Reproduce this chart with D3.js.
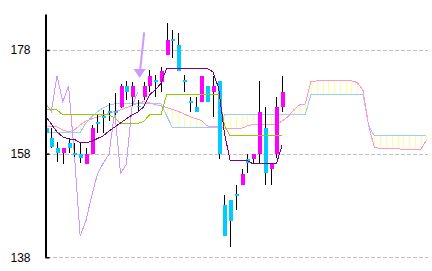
<!DOCTYPE html>
<html>
<head>
<meta charset="utf-8">
<script src="https://cdn.jsdelivr.net/npm/d3@7"></script>
<style>
  body { margin: 0; background: #fff; }
  svg { display: block; }
</style>
</head>
<body>
<svg id="chart" width="432" height="271"></svg>
<script>
// candles (price units)
const opens  = [163.0,161.1,159.15,158.07,160.1,158.1,157.93,156.0,157.93,164.1,165.2,166.2,166.3,167.06,171.05,169.0,167.2,169.0,171.1,172.2,171.9,177.04,180.1,179.0,172.2,168.2,167.06,168.0,171.05,169.95,172.0,148.1,149.06,150.2,151.95,156.95,156.97,157.93,162.9,155.04,157.93,167.06];
const highs  = [163.3,163.0,160.2,159.15,161.1,160.1,160.2,159.1,163.5,165.6,166.4,167.8,169.6,171.5,172.0,171.9,168.35,171.9,174.1,173.2,174.8,183.15,181.9,181.2,173.2,169.0,169.0,173.0,171.05,173.0,172.0,150.0,149.06,151.95,155.04,157.93,157.9,172.0,167.06,155.95,169.0,172.98];
const lows   = [161.6,159.0,156.45,156.0,158.07,157.4,156.1,156.0,157.9,161.9,162.0,164.2,165.5,166.8,168.35,167.2,166.1,168.35,169.95,169.0,169.95,177.0,176.4,173.9,169.95,166.1,166.1,168.0,168.0,165.1,156.97,142.1,140.04,147.13,151.95,154.2,156.0,156.0,151.95,151.95,157.1,166.1];
const closes = [162.0,159.2,158.07,159.15,159.15,157.9,157.06,157.93,163.0,163.7,164.8,165.8,165.9,171.1,169.95,171.1,166.9,171.1,173.0,171.9,173.95,179.93,179.7,173.95,171.9,167.8,166.1,173.0,168.0,171.05,157.93,142.1,145.0,149.8,154.07,156.14,157.88,166.1,154.2,155.95,167.06,169.95];

// ichimoku lines
const tenkan = [165.26,163.72,162.18,161.21,160.83,160.73,160.15,160.15,160.34,160.92,161.41,162.37,163.14,163.91,164.69,165.46,166.04,167.0,169.3,170.3,171.5,174.47,174.47,174.47,174.47,174.47,174.47,174.47,174.47,173.75,170.67,161.98,156.64,156.64,156.64,156.64,156.0,156.0,156.0,156.0,156.0,159.67];
const kijun  = [166.42,166.42,166.42,165.46,165.46,165.46,165.46,165.46,165.46,165.46,165.46,165.46,164.9,163.86,163.86,163.86,163.86,164.17,165.46,165.46,165.46,169.41,169.41,169.41,169.41,169.41,169.41,169.41,169.41,169.41,169.41,163.5,161.41,161.41,161.41,161.41,161.41,161.41,161.41,161.41,161.41,161.41];
const spanA  = [163.20,163.20,163.14,162.56,162.24,162.56,163.53,164.30,164.69,165.07,
                165.36,165.75,166.13,166.42,166.90,167.29,167.68,168.02,167.77,167.48,
                167.19,166.90,166.52,166.13,165.65,165.17,164.78,164.40,163.34,163.20,
                163.20,162.89,162.89,162.89,162.89,163.34,163.62,163.53,163.53,163.53,
                163.53,164.30,165.13,166.42,167.39,167.58,171.88,172.02,172.02,172.02,
                172.02,172.02,172.02,172.02,171.73,170.28,163.34,159.15,159.03,159.03,
                159.03,159.03,158.70,158.70,158.70,158.70,160.63];
const spanB  = [162.04,162.04,162.04,162.04,162.04,162.04,162.04,163.91,165.07,166.09,
                166.81,167.39,167.58,167.58,167.58,167.58,167.58,167.58,167.58,167.58,
                167.58,165.3,163.01,163.01,163.01,163.01,163.01,163.01,163.01,163.01,
                163.01,165.46,165.46,165.46,165.46,165.46,165.46,165.46,165.46,165.46,
                165.46,165.46,165.46,165.46,165.46,165.46,169.45,169.45,169.45,169.45,
                169.45,169.45,169.45,169.45,169.45,169.45,163.34,161.41,161.41,161.41,
                161.41,161.41,161.41,161.41,161.41,161.41,161.41];
const chikou = [167.8,166.1,173.0,168.0,171.05,157.93,142.1,145.0,149.8,154.07,156.14,157.88,166.1,154.2,155.95,167.06,169.95];

const yTicks = [138, 158, 178];
// marker arrow: [index, price] tail and tip
const arrowTail = [17.1, 181.4];
const arrowTip  = [16.3, 172.6];

const svg = d3.select('#chart');
const x = d3.scaleLinear().domain([0, 66]).range([45.5, 426.4]);
const y = d3.scaleLinear().domain([138, 184.93]).range([257.3, 14]);

// grid
svg.append('g')
  .selectAll('line')
  .data(yTicks)
  .enter().append('line')
  .attr('x1', 47).attr('x2', 428)
  .attr('y1', d => Math.round(y(d)) + 0.5)
  .attr('y2', d => Math.round(y(d)) + 0.5)
  .attr('stroke', '#c0c0c0')
  .attr('stroke-dasharray', '4,2')
  .attr('shape-rendering', 'crispEdges');

// cloud hatch
const hatch = d3.range(spanA.length);
svg.append('g')
  .selectAll('line')
  .data(hatch)
  .enter().append('line')
  .attr('x1', i => Math.round(x(i)) + 0.5)
  .attr('x2', i => Math.round(x(i)) + 0.5)
  .attr('y1', i => y(spanA[i]))
  .attr('y2', i => y(spanB[i]))
  .attr('stroke', '#ffff99')
  .attr('shape-rendering', 'crispEdges');

const line = arr => d3.line()
  .x((d, i) => x(i))
  .y(d => y(d))(arr);

const drawLine = (arr, color) => svg.append('path')
  .attr('d', line(arr))
  .attr('fill', 'none')
  .attr('stroke', color)
  .attr('stroke-width', 1)
  .attr('shape-rendering', 'crispEdges');

drawLine(spanB, '#99ccff');
drawLine(spanA, '#ff99cc');
drawLine(chikou, '#cc99ff');

// candles
const candles = svg.append('g').attr('shape-rendering', 'crispEdges');
candles.selectAll('line')
  .data(closes)
  .enter().append('line')
  .attr('x1', (d, i) => Math.round(x(i)) + 0.5)
  .attr('x2', (d, i) => Math.round(x(i)) + 0.5)
  .attr('y1', (d, i) => y(highs[i]))
  .attr('y2', (d, i) => y(lows[i]))
  .attr('stroke', '#000');

candles.selectAll('rect')
  .data(closes)
  .enter().append('rect')
  .attr('x', (d, i) => Math.round(x(i)) - 1.5)
  .attr('width', 4)
  .attr('y', (d, i) => y(Math.max(opens[i], d)))
  .attr('height', (d, i) => Math.max(1.5, Math.abs(y(opens[i]) - y(d))))
  .attr('fill', (d, i) => d >= opens[i] ? '#ff00ff' : '#00ccff');

drawLine(kijun, '#99cc00');
drawLine(tenkan, '#800080');

// arrow marker
const tx = x(arrowTail[0]), ty = y(arrowTail[1]);
const hx = x(arrowTip[0]), hy = y(arrowTip[1]);
svg.append('line')
  .attr('x1', tx).attr('y1', ty)
  .attr('x2', hx + 0.6).attr('y2', hy - 8)
  .attr('stroke', '#cc99ff')
  .attr('stroke-width', 2);
svg.append('path')
  .attr('d', `M${hx - 6},${hy - 9} L${hx + 6},${hy - 9} L${hx},${hy} Z`)
  .attr('fill', '#cc99ff');

// axis
const axis = d3.axisLeft(y)
  .tickValues(yTicks)
  .tickSize(-4)
  .tickSizeOuter(0)
  .tickPadding(15);

const ag = svg.append('g')
  .attr('transform', 'translate(45.5,0)')
  .call(axis);
ag.select('.domain').attr('stroke', '#000').attr('stroke-width', 2);
ag.selectAll('.tick line').attr('stroke', '#000').attr('stroke-width', 1.5);
ag.selectAll('.tick text')
  .attr('font-family', 'Liberation Sans, Arial, sans-serif')
  .attr('font-size', 12)
  .attr('fill', '#000');
</script>
</body>
</html>
